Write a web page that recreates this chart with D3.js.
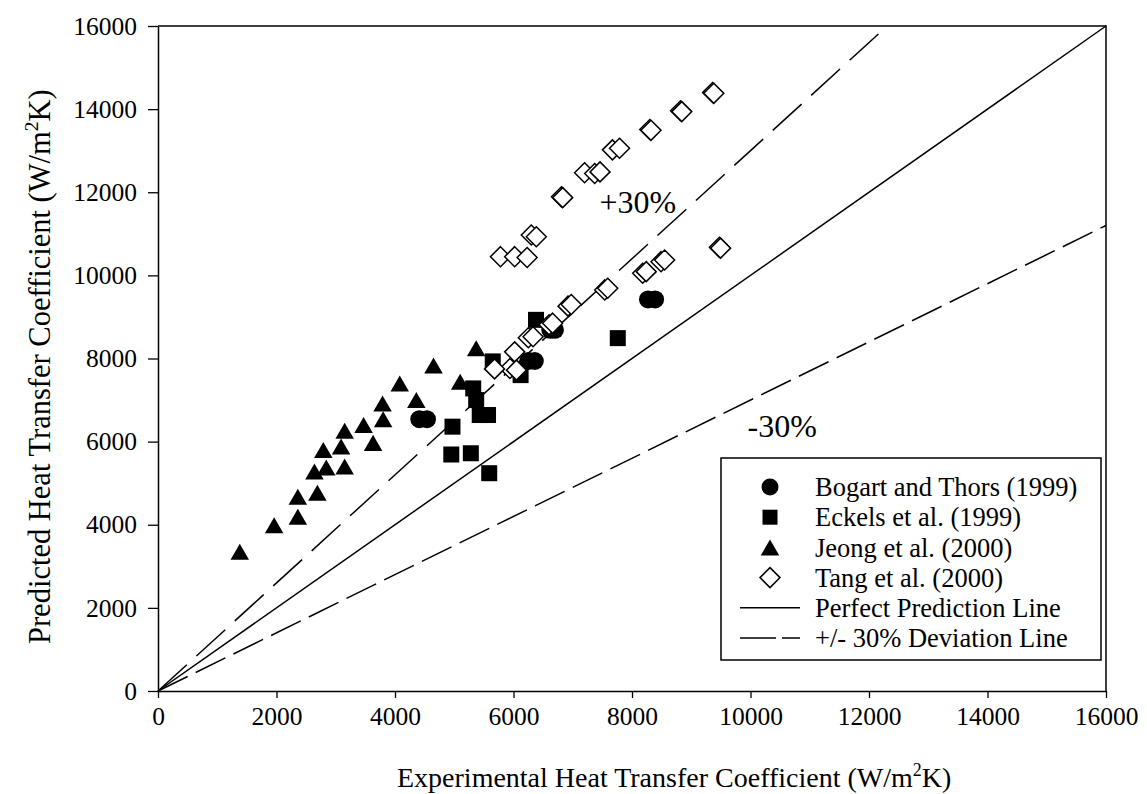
<!DOCTYPE html>
<html>
<head>
<meta charset="utf-8">
<script src="https://cdn.jsdelivr.net/npm/d3@7"></script>
<style>
  html, body { margin: 0; padding: 0; background: #fff; }
  svg { display: block; }
  text { font-family: "Times New Roman", "Liberation Serif", serif; fill: #000; }
</style>
</head>
<body>
<svg id="chart" width="1147" height="794"></svg>
<script>
// Experimental vs. predicted heat transfer coefficient, W/m²K
const bogart = [ // Bogart and Thors (1999)
  [4410, 6540], [4540, 6540],
  [6250, 7940], [6360, 7940],
  [6620, 8690], [6700, 8690],
  [8270, 9420], [8390, 9420]
];
const eckels = [ // Eckels et al. (1999)
  [4970, 6360], [4950, 5690], [5280, 5720], [5590, 5240],
  [5320, 7280], [5370, 7000], [5430, 6640], [5570, 6640],
  [5650, 7930], [6120, 7600], [6380, 8930], [7760, 8490]
];
const jeong = [ // Jeong et al. (2000)
  [1380, 3350], [1960, 3990], [2360, 4190], [2360, 4675],
  [2690, 4770], [2640, 5280], [2840, 5380], [2790, 5800],
  [3150, 5400], [3090, 5880], [3150, 6260], [3630, 5970],
  [3470, 6400], [3800, 6540], [3790, 6920], [4080, 7400],
  [4360, 7000], [4650, 7830], [5100, 7440], [5370, 8245]
];
const tang = [ // Tang et al. (2000)
  [9360, 14400], [9380, 14380],
  [8820, 13960], [8840, 13940],
  [8300, 13510], [8320, 13490],
  [7670, 13020], [7790, 13060],
  [7200, 12470], [7370, 12450], [7460, 12490],
  [6810, 11890], [6830, 11870],
  [6300, 10970], [6385, 10930],
  [5780, 10450], [6020, 10450], [6230, 10430],
  [9475, 10675], [9495, 10655],
  [8490, 10330], [8550, 10370],
  [8180, 10050], [8240, 10090],
  [7540, 9650], [7590, 9690],
  [6920, 9260], [6975, 9300],
  [6600, 8810], [6660, 8850],
  [6250, 8500], [6330, 8525],
  [6020, 8160],
  [5940, 7760], [6050, 7720],
  [5680, 7750]
];

const xTicks = [0, 2000, 4000, 6000, 8000, 10000, 12000, 14000, 16000];
const yTicks = [0, 2000, 4000, 6000, 8000, 10000, 12000, 14000, 16000];
const axisMax = 16000;
const ratioLines = [ // predicted / experimental
  { name: "perfect", factor: 1.0 },
  { name: "plus30", factor: 1.3 },
  { name: "minus30", factor: 0.7 }
];
const legendLabels = [
  "Bogart and Thors (1999)",
  "Eckels et al. (1999)",
  "Jeong et al. (2000)",
  "Tang et al. (2000)",
  "Perfect Prediction Line",
  "+/- 30% Deviation Line"
];
const annotations = [
  { text: "+30%", at: [7450, 11500] },
  { text: "-30%", at: [9950, 6100] }
];

const svg = d3.select("#chart");
const margin = { left: 158, top: 26, right: 41, bottom: 103 };
const W = 1147, H = 794;
const iw = W - margin.left - margin.right;
const ih = H - margin.top - margin.bottom;

const x = d3.scaleLinear().domain([0, axisMax]).range([0, iw]);
const y = d3.scaleLinear().domain([0, axisMax]).range([ih, 0]);

const g = svg.append("g").attr("transform", `translate(${margin.left},${margin.top})`);

// frame: top and right edges
g.append("path")
  .attr("d", `M0,0H${iw}V${ih}`)
  .attr("fill", "none").attr("stroke", "#000").attr("stroke-width", 1.5);

// axes
const xAxis = g.append("g").attr("transform", `translate(0,${ih})`)
  .call(d3.axisBottom(x).tickValues(xTicks).tickFormat(d3.format("d")).tickSize(7).tickPadding(9).tickSizeOuter(0));
const yAxis = g.append("g")
  .call(d3.axisLeft(y).tickValues(yTicks).tickFormat(d3.format("d")).tickSize(10).tickPadding(11).tickSizeOuter(0));
[xAxis, yAxis].forEach(a => {
  a.select(".domain").attr("stroke", "#000").attr("stroke-width", 1.5);
  a.selectAll(".tick line").attr("stroke", "#000").attr("stroke-width", 1.3);
  a.selectAll(".tick text").style("font-size", "25.5px")
    .style("font-family", '"Times New Roman", "Liberation Serif", serif').attr("fill", "#000");
});

// reference lines
const dashes = { perfect: null, plus30: "39,13", minus30: "33,9" };
const line = d3.line().x(d => x(d[0])).y(d => y(d[1]));
ratioLines.forEach(r => {
  const xEnd = Math.min(axisMax, axisMax / r.factor);
  g.append("path")
    .datum([[0, 0], [xEnd, xEnd * r.factor]])
    .attr("d", line)
    .attr("fill", "none").attr("stroke", "#000").attr("stroke-width", 1.5)
    .attr("stroke-dasharray", dashes[r.name]);
});

// marker shapes
const triS = 18.5, triH = triS * Math.sqrt(3) / 2;
const triPath = `M0,${-triH / 2}L${triS / 2},${triH / 2}L${-triS / 2},${triH / 2}Z`;
const sq = 16;
const dia = 10;
const diaPath = `M0,${-dia}L${dia},0L0,${dia}L${-dia},0Z`;

g.append("g").selectAll("circle").data(bogart).join("circle")
  .attr("cx", d => x(d[0])).attr("cy", d => y(d[1])).attr("r", 9).attr("fill", "#000");
g.append("g").selectAll("rect").data(eckels).join("rect")
  .attr("x", d => x(d[0]) - sq / 2).attr("y", d => y(d[1]) - sq / 2)
  .attr("width", sq).attr("height", sq).attr("fill", "#000");
g.append("g").selectAll("path").data(jeong).join("path")
  .attr("transform", d => `translate(${x(d[0])},${y(d[1])})`)
  .attr("d", triPath).attr("fill", "#000");
g.append("g").selectAll("path").data(tang).join("path")
  .attr("transform", d => `translate(${x(d[0])},${y(d[1])})`)
  .attr("d", diaPath).attr("fill", "#fff").attr("stroke", "#000").attr("stroke-width", 1.5);

// line annotations
annotations.forEach(a => {
  g.append("text").attr("x", x(a.at[0])).attr("y", y(a.at[1]))
    .style("font-size", "32px").text(a.text);
});

// legend
const lg = svg.append("g").attr("transform", "translate(721,458)");
lg.append("rect").attr("width", 380).attr("height", 202)
  .attr("fill", "#fff").attr("stroke", "#000").attr("stroke-width", 1.5);
const rowY = i => 29 + i * 30.2;
const symX = 49;
lg.append("circle").attr("cx", symX).attr("cy", rowY(0)).attr("r", 8.5).attr("fill", "#000");
lg.append("rect").attr("x", symX - 7.5).attr("y", rowY(1) - 7.5).attr("width", 15).attr("height", 15).attr("fill", "#000");
lg.append("path").attr("transform", `translate(${symX},${rowY(2)})`).attr("d", triPath).attr("fill", "#000");
lg.append("path").attr("transform", `translate(${symX},${rowY(3)})`).attr("d", diaPath)
  .attr("fill", "#fff").attr("stroke", "#000").attr("stroke-width", 1.5);
lg.append("line").attr("x1", 19).attr("x2", 79).attr("y1", rowY(4)).attr("y2", rowY(4))
  .attr("stroke", "#000").attr("stroke-width", 1.5);
lg.append("line").attr("x1", 19).attr("x2", 79).attr("y1", rowY(5)).attr("y2", rowY(5))
  .attr("stroke", "#000").attr("stroke-width", 1.5).attr("stroke-dasharray", "36,6");
legendLabels.forEach((t, i) => {
  lg.append("text").attr("x", 94).attr("y", rowY(i)).attr("dy", "0.35em")
    .style("font-size", "26.5px").text(t);
});

// axis titles, placed from their starting point
function unitTitle(parent, label, size) {
  const t = parent.append("text").attr("text-anchor", "start").attr("x", 0).attr("y", 0)
    .style("font-size", size + "px");
  t.append("tspan").text(label + " (W/m");
  t.append("tspan").attr("dy", -0.4 * size).style("font-size", (0.64 * size) + "px").text("2");
  t.append("tspan").attr("dy", 0.4 * size).text("K)");
  return t;
}
unitTitle(svg.append("g").attr("transform", "translate(397,787)"),
  "Experimental Heat Transfer Coefficient", 28);
unitTitle(svg.append("g").attr("transform", "translate(50,644) rotate(-90)"),
  "Predicted Heat Transfer Coefficient", 30.5);
</script>
</body>
</html>
